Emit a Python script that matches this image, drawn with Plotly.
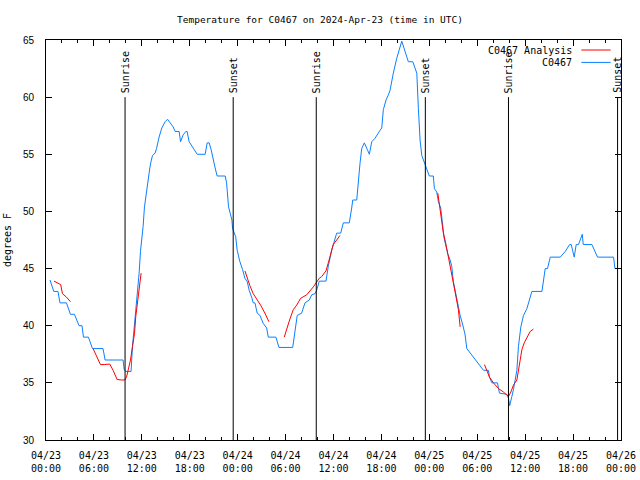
import pandas as pd
import plotly.graph_objects as go

START = pd.Timestamp("2024-04-23 00:00")

# Observed series C0467: hours since start, degrees F
obs_hours = [0.50, 0.97, 1.50, 1.75, 2.56, 3.06, 3.56, 4.14, 4.51, 4.69, 5.31, 5.82, 7.14, 7.40,
             9.65, 9.78, 9.95, 10.65, 10.83, 10.99, 11.16, 11.33, 11.49, 11.66, 11.83, 12.00,
             12.16, 12.33, 12.50, 12.66, 12.84, 13.00, 13.16, 13.34, 13.66, 13.84, 14.16, 14.50,
             14.92, 15.22, 15.50, 15.92, 16.17, 16.67, 16.85, 17.17, 17.51, 17.67, 17.92, 18.43,
             18.93, 19.93, 20.18, 20.43, 20.68, 21.18, 21.43, 22.44, 22.61, 22.86, 23.03, 23.28,
             23.36, 23.53, 23.75, 23.94, 24.28, 24.62, 24.91, 25.20, 25.44, 25.75, 25.95, 26.16,
             26.45, 26.79, 27.20, 27.63, 27.83, 28.79, 29.17, 30.89, 31.17, 31.46, 32.01, 32.43,
             32.97, 33.27, 33.68, 33.89, 34.22, 35.06, 35.35, 35.56, 35.77, 36.40, 36.90, 37.23,
             37.98, 38.28, 38.41, 38.91, 38.98, 39.11, 39.32, 39.53, 39.86, 40.24, 40.49, 40.79,
             41.20, 41.83, 42.04, 42.24, 42.58, 42.87, 43.08, 43.49, 43.92, 44.55, 44.84, 45.37,
             45.93, 46.21, 46.43, 46.63, 46.84, 47.05, 47.34, 47.50, 48.00, 48.50, 48.63, 48.93,
             49.13, 49.43, 49.64, 49.85, 50.10, 50.31, 50.60, 50.81, 51.01, 51.23, 51.52, 51.86,
             52.19, 52.48, 52.69, 53.11, 53.73, 54.36, 54.78, 55.40, 55.53, 55.83, 56.53, 56.78,
             57.71, 57.91, 58.06, 58.33, 58.53, 58.96, 59.16, 59.46, 59.79, 60.22, 60.54, 60.84,
             62.10, 62.30, 62.51, 62.80, 63.14, 64.39, 65.02, 65.56, 65.77, 66.14, 66.39, 66.68,
             66.90, 67.15, 67.27, 68.36, 69.06, 71.07, 71.24, 71.41]
obs_temps = [44.0, 43.0, 43.0, 42.0, 42.0, 41.0, 41.0, 40.0, 40.0, 39.0, 39.0, 38.0, 38.0, 37.0,
             37.0, 36.2, 36.0, 36.0, 38.2, 39.4, 40.5, 42.0, 43.1, 44.6, 46.5, 47.5,
             48.7, 50.4, 51.3, 52.3, 53.0, 53.8, 54.4, 54.9, 55.1, 55.5, 56.5, 57.3,
             57.85, 58.06, 57.8, 57.4, 57.0, 57.0, 56.1, 56.7, 57.0, 57.0, 56.1, 55.5,
             55.0, 55.0, 56.0, 56.0, 55.4, 53.8, 53.1, 53.1, 52.5, 50.4, 50.0, 49.25,
             48.5, 48.1, 47.8, 46.6, 45.6, 44.9, 44.15, 43.85, 43.1, 42.5, 42.0, 42.0,
             41.1, 40.9, 40.2, 39.8, 39.0, 39.0, 38.1, 38.1, 39.3, 40.9, 41.1, 42.0,
             42.25, 42.7, 42.8, 43.1, 43.9, 43.9, 45.2, 46.0, 46.6, 48.1, 48.1, 49.0,
             49.0, 50.3, 51.0, 51.0, 51.6, 53.2, 54.2, 55.5, 56.0, 55.4, 55.0, 56.1,
             56.4, 57.1, 57.3, 58.9, 59.75, 60.2, 60.6, 62.1, 63.4, 64.9, 64.3, 63.1,
             63.1, 62.5, 62.1, 59.0, 56.25, 54.9, 54.4, 54.1, 53.1, 53.1, 52.0, 51.7,
             50.85, 50.3, 48.7, 47.65, 46.9, 46.3, 45.75, 45.2, 43.85, 43.1, 42.0, 40.9,
             40.06, 39.2, 38.0, 37.6, 37.0, 36.4, 36.1, 36.1, 35.5, 35.0, 35.0, 34.1,
             34.0, 33.65, 33.0, 33.8, 34.4, 36.1, 38.2, 39.9, 40.9, 41.5, 42.25, 43.0,
             43.0, 44.15, 45.0, 45.0, 46.0, 46.0, 46.5, 47.1, 47.1, 46.0, 47.1, 47.1,
             47.6, 48.0, 47.1, 47.1, 46.0, 46.0, 45.0, 45.0]

# Analysis series: segments separated by None
ana_hours = [1.00, 1.63, 1.84, 2.06, 2.56, 3.06, None,
             5.89, 6.32, 6.82, 7.36, 7.77, 7.98, 8.40, 8.90, 9.45, 9.86, 10.08, 10.28, 10.58,
             10.83, 11.08, 11.24, 11.49, 11.66, 11.91, None,
             24.91, 25.19, 25.53, 25.95, 26.45, 26.87, 27.41, 27.91, None,
             29.83, 30.21, 30.55, 30.96, 31.39, 31.89, 32.64, 33.47, 33.89, 34.22, 34.52, 34.93,
             35.06, 35.35, 35.65, 35.97, 36.40, 36.81, None,
             49.06, 49.35, 49.56, 49.76, 50.06, 50.39, 50.69, 51.01, 51.35, 51.64, 51.86, None,
             54.90, 55.20, 55.53, 56.03, 56.66, 57.28, 57.91, 58.21, 58.53, 58.96, 59.16, 59.37,
             59.59, 59.88, 60.21, 60.63, 61.04]
ana_temps = [43.9, 43.7, 43.6, 42.8, 42.5, 42.1, None,
             38.0, 37.3, 36.6, 36.6, 36.6, 36.65, 36.1, 35.3, 35.25, 35.25, 35.5, 36.1, 37.0,
             38.2, 39.3, 40.8, 42.25, 43.1, 44.6, None,
             44.8, 44.2, 43.5, 42.8, 42.3, 41.8, 41.1, 40.35, None,
             39.0, 39.9, 40.6, 41.4, 41.8, 42.4, 42.7, 43.4, 43.85, 44.15, 44.3, 44.7,
             44.8, 45.5, 46.4, 47.1, 47.5, 47.9, None,
             51.6, 50.3, 49.25, 48.1, 47.2, 46.0, 45.2, 43.7, 42.5, 41.4, 39.9, None,
             36.6, 36.1, 35.5, 35.0, 34.5, 34.2, 33.8, 34.2, 34.8, 35.25, 36.1, 37.0,
             37.9, 38.5, 38.9, 39.5, 39.7]

sun_event_hours = [9.90, 23.44, 33.84, 47.50, 57.91, 71.57]
sun_event_labels = ["Sunrise", "Sunset", "Sunrise", "Sunset", "Sunrise", "Sunset"]

legend_names = ["C0467 Analysis", "C0467"]
colors = ["#ff0000", "#0a80ff"]

def to_time(hs):
    return [None if h is None else START + pd.Timedelta(hours=h) for h in hs]

FONT = "DejaVu Sans Mono"
YFONT = "Liberation Sans Narrow, Liberation Sans, sans-serif"
fig = go.Figure()
fig.add_trace(go.Scatter(x=to_time(obs_hours), y=obs_temps, mode="lines",
                         line=dict(color=colors[1], width=1), name=legend_names[1],
                         showlegend=False))
fig.add_trace(go.Scatter(x=to_time(ana_hours), y=ana_temps, mode="lines",
                         line=dict(color=colors[0], width=1), name=legend_names[0],
                         connectgaps=False, showlegend=False))

shapes = []
annotations = []
for h, lab in zip(sun_event_hours, sun_event_labels):
    t = START + pd.Timedelta(hours=h)
    shapes.append(dict(type="line", xref="x", yref="y", x0=t, x1=t, y0=30, y1=60,
                       line=dict(color="black", width=1)))
    annotations.append(dict(x=t, y=60, xref="x", yref="y", text=lab, textangle=-90,
                            showarrow=False, xanchor="center", yanchor="bottom", yshift=2,
                            font=dict(family=FONT, size=10, color="black")))

# gnuplot-style key: text to the left of the line sample
for i, (name, col) in enumerate(zip(legend_names, colors)):
    ypos = 0.975 - i * 0.031
    annotations.append(dict(x=0.919, y=ypos, xref="paper", yref="paper", text=name,
                            showarrow=False, xanchor="right", yanchor="middle",
                            font=dict(family=FONT, size=10, color="black")))
    shapes.append(dict(type="line", xref="paper", yref="paper", x0=0.931, x1=0.982,
                       y0=ypos, y1=ypos, line=dict(color=col, width=1)))

fig.update_layout(
    width=640, height=480,
    margin=dict(l=46, r=19, t=40, b=40, autoexpand=False),
    paper_bgcolor="white", plot_bgcolor="white",
    font=dict(family=FONT, size=10, color="black"),
    title=dict(text="Temperature for C0467 on 2024-Apr-23 (time in UTC)",
               x=0.5, xanchor="center", y=0.958, yanchor="middle",
               font=dict(family=FONT, size=9.5, color="black")),
    shapes=shapes, annotations=annotations,
    showlegend=False,
)
fig.update_xaxes(range=[START, START + pd.Timedelta(hours=72)],
                 tickvals=[START + pd.Timedelta(hours=6 * k) for k in range(13)],
                 ticktext=[(START + pd.Timedelta(hours=6 * k)).strftime("%m/%d<br>%H:%M") for k in range(13)],
                 ticks="inside", ticklen=6, tickcolor="black", mirror="ticks",
                 showline=True, linecolor="black", linewidth=1, showgrid=False, zeroline=False,
                 minor=dict(ticks="inside", ticklen=3, tickcolor="black", dtick=2 * 3600 * 1000,
                            tick0=START, showgrid=False),
                 ticklabelstandoff=6,
                 tickfont=dict(family=FONT, size=10))
fig.update_yaxes(range=[30, 65], dtick=5, tick0=30,
                 ticks="inside", ticklen=6, tickcolor="black", mirror="ticks",
                 showline=True, linecolor="black", linewidth=1, showgrid=False, zeroline=False,
                 title=dict(text="degrees F", font=dict(family=FONT, size=10), standoff=9),
                 ticklabelstandoff=9,
                 tickfont=dict(family=YFONT, size=10))

fig.write_html("out.html", post_script="document.body.style.margin='0';",
               config={"displayModeBar": False})
